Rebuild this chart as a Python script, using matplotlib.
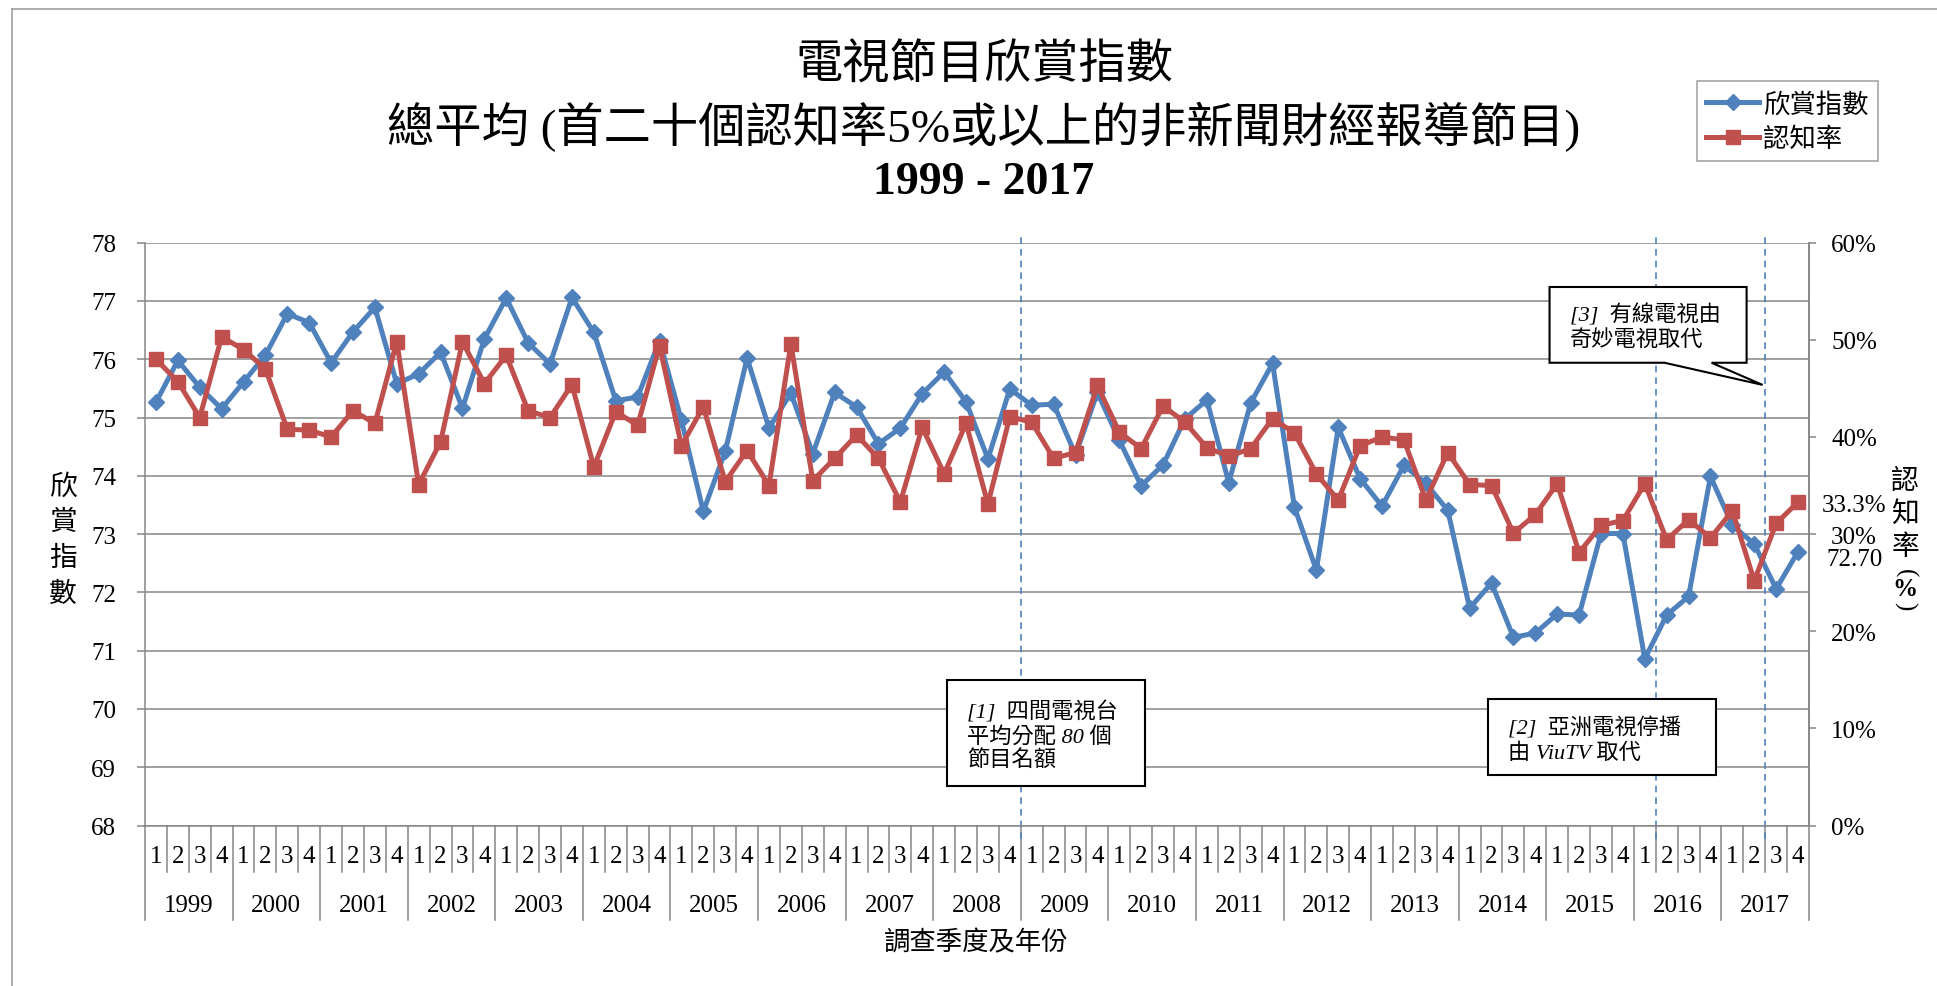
import matplotlib
matplotlib.use('Agg')
import matplotlib.pyplot as plt
from matplotlib.patches import Rectangle, Polygon
from matplotlib.lines import Line2D
import matplotlib.transforms as mtransforms

plt.rcParams['font.family'] = ['Liberation Serif', 'Noto Sans CJK TC', 'DejaVu Sans']
CJK = ['Noto Sans CJK TC', 'DejaVu Sans']

# data, one value per quarter, 1999 Q1 .. 2017 Q4
years = list(range(1999, 2018))
quarter_labels = ['1', '2', '3', '4']

appreciation_index = [
    75.26, 75.98, 75.52, 75.15, 75.61, 76.07, 76.78, 76.63,
    75.94, 76.47, 76.89, 75.58, 75.75, 76.12, 75.16, 76.35,
    77.05, 76.28, 75.92, 77.06, 76.46, 75.29, 75.35, 76.32,
    74.95, 73.39, 74.42, 76.02, 74.82, 75.42, 74.38, 75.43,
    75.18, 74.55, 74.82, 75.41, 75.78, 75.27, 74.29, 75.49,
    75.21, 75.23, 74.36, 75.43, 74.61, 73.83, 74.19, 74.98,
    75.30, 73.88, 75.25, 75.93, 73.46, 72.38, 74.83, 73.95,
    73.48, 74.18, 73.87, 73.41, 71.73, 72.16, 71.23, 71.30,
    71.63, 71.61, 73.01, 73.01, 70.86, 71.61, 71.93, 73.99,
    73.15, 72.83, 72.06, 72.70,
]
awareness_rate = [
    48.0, 45.7, 42.0, 50.3, 49.0, 47.0, 40.8, 40.7,
    40.0, 42.7, 41.4, 49.8, 35.1, 39.5, 49.8, 45.5,
    48.4, 42.7, 42.0, 45.4, 36.9, 42.6, 41.2, 49.4,
    39.1, 43.1, 35.4, 38.6, 35.0, 49.6, 35.5, 37.8,
    40.2, 37.8, 33.3, 41.0, 36.2, 41.4, 33.1, 42.1,
    41.5, 37.8, 38.4, 45.3, 40.5, 38.8, 43.2, 41.5,
    38.9, 38.0, 38.8, 41.9, 40.4, 36.2, 33.5, 39.1,
    40.0, 39.7, 33.5, 38.4, 35.1, 35.0, 30.1, 32.0,
    35.2, 28.1, 30.9, 31.4, 35.2, 29.4, 31.5, 29.6,
    32.4, 25.2, 31.1, 33.3,
]

# events marked by dashed lines (year, first quarter after the change)
events = [(2009, 1), (2016, 2), (2017, 3)]

BLUE = '#4F81BD'
RED = '#C0504D'
GRID = '#868686'

fig = plt.figure(figsize=(19.37, 9.87), dpi=100)
W, H = 1937.0, 987.0
ax = fig.add_axes([145 / W, 1 - 826.5 / H, (1809 - 145) / W, (826.5 - 243.7) / H])

x = list(range(len(appreciation_index)))
ax.plot(x, appreciation_index, color=BLUE, lw=3.6, marker='D', ms=8.5,
        label='欣賞指數', zorder=3)
ax.set_xlim(-0.5, len(x) - 0.5)
ax.set_ylim(68, 78)
ax.set_yticks(range(68, 79))
ax.yaxis.grid(True, color=GRID, lw=1.1)
ax.set_axisbelow(True)
ax.set_xticks([])
ax.spines['top'].set_visible(False)
for side in ['left', 'right', 'bottom']:
    ax.spines[side].set_color(GRID)
    ax.spines[side].set_linewidth(1.1)
ax.tick_params(axis='y', direction='out', length=5.8, width=1.1, color=GRID,
               labelsize=18, pad=15)

ax2 = ax.twinx()
ax2.plot(x, awareness_rate, color=RED, lw=3.6, marker='s', ms=10,
         label='認知率', zorder=3)
ax2.set_ylim(0, 60)
ax2.set_yticks(range(0, 61, 10))
ax2.set_yticklabels([f'{v}%' for v in range(0, 61, 10)])
ax2.tick_params(axis='y', direction='out', length=5, width=1.1, color=GRID,
                labelsize=18, pad=11)
for side in ['top', 'left', 'bottom']:
    ax2.spines[side].set_visible(False)
ax2.spines['right'].set_color(GRID)
ax2.spines['right'].set_linewidth(1.1)

# category axis: quarters and years
trans = mtransforms.blended_transform_factory(ax.transData, ax.transAxes)
n = len(x)
for i in range(n):
    ax.text(i, -0.0523, quarter_labels[i % 4], transform=trans, ha='center',
            va='center', fontsize=18)
for k in range(n + 1):
    bottom = -0.162 if k % 4 == 0 else -0.0798
    ax.plot([k - 0.5, k - 0.5], [bottom, 0], transform=trans, color=GRID,
            lw=1.1, clip_on=False)
for j, yr in enumerate(years):
    ax.text(j * 4 + 1.5, -0.1364, str(yr), transform=trans, ha='center',
            va='center', fontsize=18)

# dashed event lines
for yr, q in events:
    pos = (yr - years[0]) * 4 + (q - 1) - 0.5
    ax.plot([pos, pos], [-0.023, 1.015], transform=trans, color=BLUE, lw=1.2,
            ls=(0, (4, 3)), clip_on=False, zorder=2)

# annotation boxes
box_font = ['Liberation Serif', 'Noto Sans CJK TC']
ax.add_patch(Rectangle((36.12, 68.68), 45.16 - 36.12, 70.50 - 68.68,
                       facecolor='white', edgecolor='black', lw=1.5,
                       zorder=6, clip_on=False))
ax.text(37.03, 69.54, '[1]  四間電視台\n平均分配 80 個\n節目名額', ha='left',
        va='center', fontsize=16, style='italic', linespacing=1.22, zorder=7,
        family=box_font)

ax.add_patch(Rectangle((60.82, 68.87), 71.24 - 60.82, 70.17 - 68.87,
                       facecolor='white', edgecolor='black', lw=1.5,
                       zorder=6, clip_on=False))
ax.text(61.75, 69.47, '[2]  亞洲電視停播\n由 ViuTV 取代', ha='left',
        va='center', fontsize=16, style='italic', linespacing=1.22, zorder=7,
        family=box_font)

ax.add_patch(Polygon([(63.65, 77.24), (72.65, 77.24), (72.65, 75.94),
                      (71.05, 75.94), (73.38, 75.56), (68.90, 75.94),
                      (63.65, 75.94)], closed=True, facecolor='white',
                     edgecolor='black', lw=1.5, zorder=6, clip_on=False))
ax.text(64.57, 76.56, '[3]  有線電視由\n奇妙電視取代', ha='left',
        va='center', fontsize=16, style='italic', linespacing=1.22, zorder=7,
        family=box_font)

# labels on the last points
ax2.annotate(f'{awareness_rate[-1]:.1f}%', xy=(x[-1], awareness_rate[-1]),
             xytext=(40, -2), textcoords='offset points', ha='center',
             va='center', fontsize=18, annotation_clip=False)
ax.annotate(f'{appreciation_index[-1]:.2f}', xy=(x[-1], appreciation_index[-1]),
            xytext=(41, -5), textcoords='offset points', ha='center',
            va='center', fontsize=18, annotation_clip=False)

# axis titles
fig.text(63 / W, 1 - 540 / H, '欣\n賞\n指\n數', ha='center', va='center',
         fontsize=20, family=CJK, linespacing=1.25)
fig.text(1905 / W, 1 - 514 / H, '認\n知\n率', ha='center', va='center',
         fontsize=20, family=CJK, linespacing=1.15)
fig.text(1905 / W, 1 - 573 / H, '(', ha='center', va='center',
         fontsize=18, rotation=-90)
fig.text(1905 / W, 1 - 589 / H, '%', ha='center', va='center',
         fontsize=18, weight='bold')
fig.text(1905 / W, 1 - 606 / H, ')', ha='center', va='center',
         fontsize=18, rotation=-90)
fig.text(976 / W, 1 - 943 / H, '調查季度及年份', ha='center', va='center',
         fontsize=19, family=CJK)

# titles
fig.text(984 / W, 1 - 65 / H, '電視節目欣賞指數', ha='center', va='center',
         fontsize=34, family=CJK)
fig.text(984 / W, 1 - 127 / H, '總平均 (首二十個認知率5%或以上的非新聞財經報導節目)',
         ha='center', va='center', fontsize=34)
fig.text(984 / W, 1 - 183 / H, '1999 - 2017', ha='center', va='center',
         fontsize=33, weight='bold')

# legend
h1, l1 = ax.get_legend_handles_labels()
h2, l2 = ax2.get_legend_handles_labels()
leg = fig.legend(h1 + h2, l1 + l2, loc='upper left',
                 bbox_to_anchor=(1697 / W, 1 - 82 / H), borderaxespad=0,
                 numpoints=1, handlelength=2.0, handletextpad=0.15,
                 labelspacing=0.3, borderpad=0.35, fancybox=False,
                 prop={'family': CJK, 'size': 19})
leg.get_frame().set_edgecolor(GRID)
leg.get_frame().set_linewidth(1.1)

# chart border
fig.add_artist(Line2D([12 / W, 1], [1 - 10 / H, 1 - 10 / H], color='#A0A0A0', lw=1.2))
fig.add_artist(Line2D([12 / W, 12 / W], [0, 1 - 10 / H], color='#A0A0A0', lw=1.2))

fig.savefig('out.png', dpi=100)
